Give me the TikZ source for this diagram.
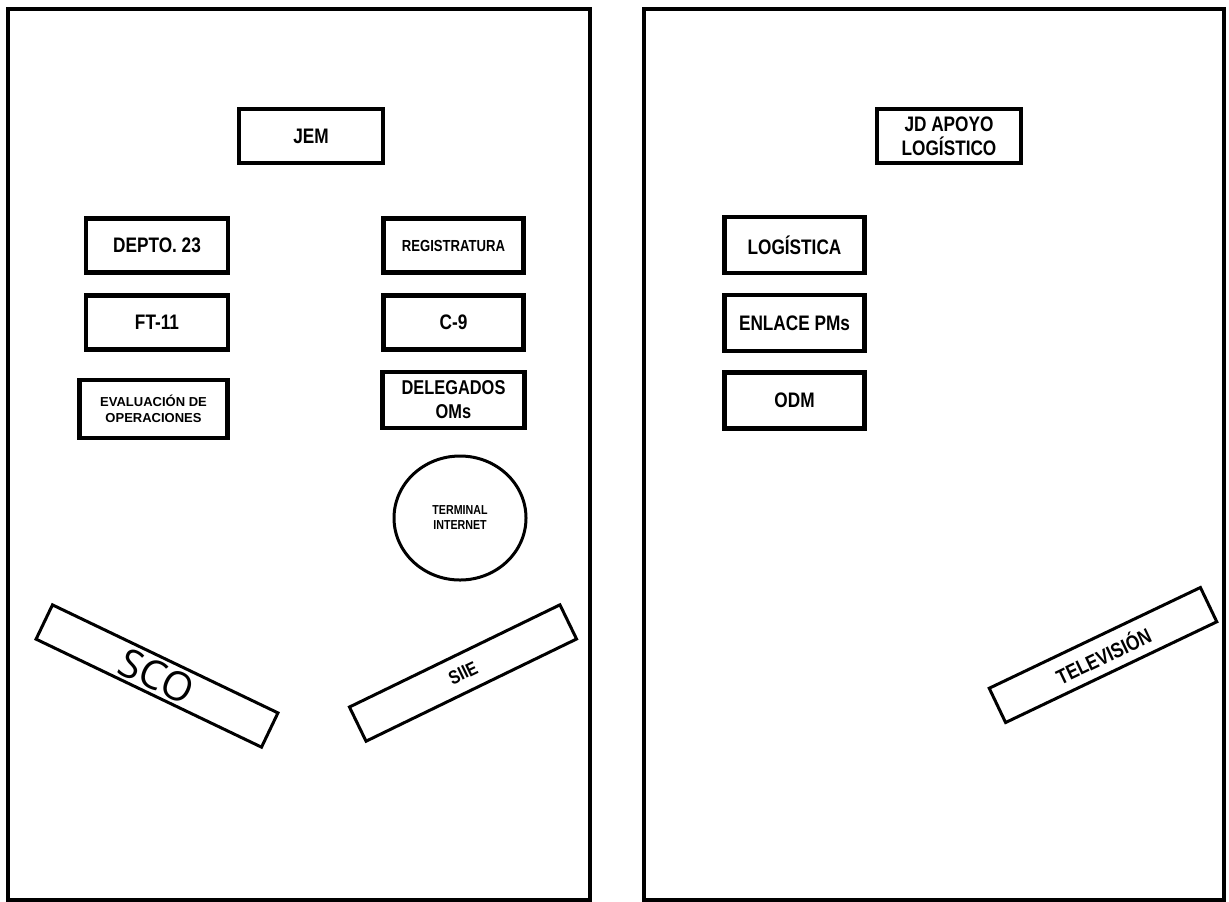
\documentclass[tikz,border=0pt]{standalone}
\usepackage{fontspec}
\setmainfont{Liberation Sans}
\newfontfamily\narrowfont{Liberation Sans}[FakeStretch=0.82]
\newfontfamily\scofont{Open Sans}
\usetikzlibrary{shapes.geometric}
\tikzstyle{room} = [draw=black, line width=2pt]
\tikzstyle{office} = [rectangle, draw=black, line width=2.2pt, text centered, align=center, inner sep=0pt, font={\narrowfont\bfseries\fontsize{10.5}{12}\selectfont}]
\tikzstyle{desk} = [rectangle, draw=black, line width=1.5pt, text centered, inner sep=0pt, minimum height=19pt, font={\narrowfont\bfseries\fontsize{10.5}{12}\selectfont}]
\tikzstyle{terminal} = [ellipse, draw=black, line width=1.5pt, text centered, align=center, inner sep=0pt, font={\narrowfont\bfseries\fontsize{6.5}{7.5}\selectfont}]
\tikzset{officesize/.style 2 args={minimum width=#1pt, minimum height=#2pt}}

\begin{document}
\begin{tikzpicture}[x=0.5pt, y=-0.5pt]
  \useasboundingbox (0,0) rectangle (1229,901);
  % rooms
  \draw [room] (8,9) rectangle (589.5,900);
  \draw [room] (644,9) rectangle (1224,900);

  % left room
  \node (jem) [office, officesize={72}{27}] at (311,136) {JEM};
  \node (depto) [office, officesize={71}{27}] at (157,245.5) {DEPTO. 23};
  \node (registratura) [office, officesize={70}{27}, font={\narrowfont\bfseries\fontsize{8}{9}\selectfont}] at (453.5,245.5) {REGISTRATURA};
  \node (ft) [office, officesize={71}{27}] at (157,322.5) {FT-11};
  \node (cnine) [office, officesize={70}{27}] at (453.5,322.5) {C-9};
  \node (evaluacion) [office, officesize={74}{29}, font={\bfseries\fontsize{6.5}{8}\selectfont}] at (153.5,409) {EVALUACIÓN DE\\OPERACIONES};
  \node (delegados) [office, officesize={71}{28}, font={\narrowfont\bfseries\fontsize{10}{12}\selectfont}] at (453.5,400) {DELEGADOS\\OMs};
  \node (internet) [terminal, minimum width=66pt, minimum height=62pt] at (460,518) {TERMINAL\\INTERNET};
  \node (sco) [desk, minimum width=125pt, rotate=-25.6, font={\scofont\fontsize{20}{22}\selectfont}] at (157,676) {SCO};
  \node (siie) [desk, minimum width=117pt, rotate=25.9, font={\narrowfont\bfseries\fontsize{9.5}{11}\selectfont}] at (463,673) {SIIE};

  % right room
  \node (jdapoyo) [office, officesize={72}{27}] at (949,136) {JD APOYO\\LOGÍSTICO};
  \node (logistica) [office, officesize={70}{28}] at (794.5,245) {LOGÍSTICA};
  \node (enlace) [office, officesize={70}{28}] at (794.5,323) {ENLACE PMs};
  \node (odm) [office, officesize={70}{28}] at (794.5,400.5) {ODM};
  \node (television) [desk, minimum width=117pt, rotate=25.5] at (1103,655) {TELEVISIÓN};
\end{tikzpicture}
\end{document}
